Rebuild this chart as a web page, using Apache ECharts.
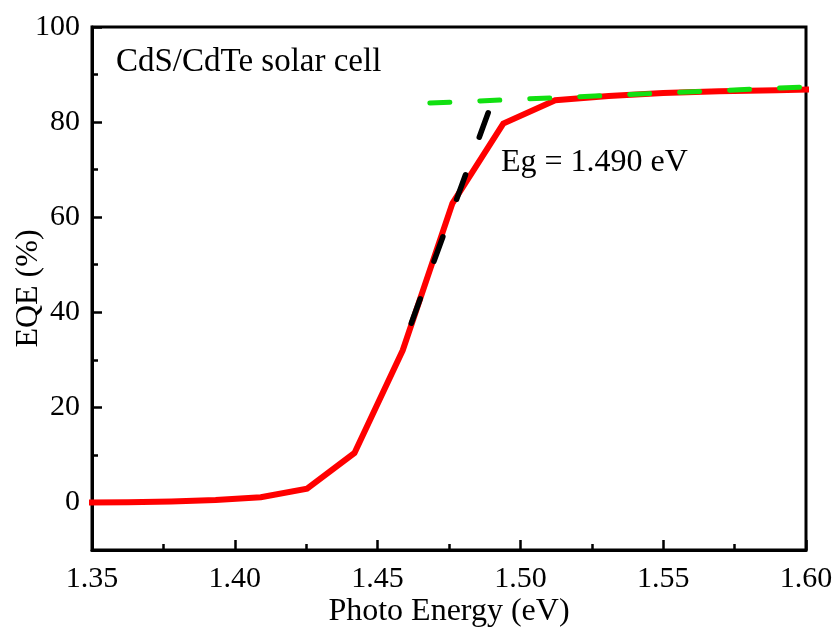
<!DOCTYPE html>
<html>
<head>
<meta charset="utf-8">
<script src="https://cdn.jsdelivr.net/npm/echarts@6/dist/echarts.min.js"></script>
<style>html,body{margin:0;padding:0;background:#fff;}#c{width:838px;height:630px;}</style>
</head>
<body>
<div id="c"></div>
<script>
// Data
const energy = [1.3478, 1.3626, 1.3778, 1.3933, 1.4091, 1.4253, 1.4419, 1.4588, 1.4762, 1.4940, 1.5122, 1.5309, 1.5500, 1.5696, 1.5897, 1.6104];
const eqe    = [0.0, 0.05, 0.2, 0.5, 1.1, 2.9, 10.4, 32.0, 62.9, 79.7, 84.6, 85.5, 86.1, 86.5, 86.7, 87.0];
const plateauX = [1.4683, 1.60];
const plateauY = [84.0, 87.4];
const slopeX = [1.4618, 1.4893];
const slopeY = [37.7, 82.9];
const yMajor = [0, 20, 40, 60, 80, 100];
const yMinor = [10, 30, 50, 70, 90];
const sampleLabel = 'CdS/CdTe solar cell';
const egLabel = 'Eg = 1.490 eV';

const FF = '"Liberation Serif", "Times New Roman", serif';
const zip = (a, b) => a.map((v, i) => [v, b[i]]);

const chart = echarts.init(document.getElementById('c'));
chart.setOption({
  animation: false,
  backgroundColor: '#fff',
  grid: { left: 92, right: 32, top: 27, bottom: 80, containLabel: false, outerBoundsMode: 'none',
          show: true, borderColor: '#000', borderWidth: 3, backgroundColor: 'transparent' },
  xAxis: {
    type: 'value', min: 1.35, max: 1.60, interval: 0.05,
    name: 'Photo Energy (eV)', nameLocation: 'middle', nameGap: 46, nameMoveOverlap: false,
    nameTextStyle: { fontFamily: FF, fontSize: 32, color: '#000' },
    axisLine: { show: true, onZero: false, lineStyle: { color: '#000', width: 3 } },
    axisTick: { show: true, inside: true, length: 10, lineStyle: { color: '#000', width: 2.5 } },
    minorTick: { show: true, splitNumber: 2, length: 6, lineStyle: { color: '#000', width: 2.5 } },
    axisLabel: { fontFamily: FF, fontSize: 30, color: '#000', margin: 14, formatter: v => v.toFixed(2) },
    splitLine: { show: false }, minorSplitLine: { show: false }
  },
  yAxis: [{
    type: 'value', min: -10, max: 100, position: 'left',
    name: 'EQE (%)', nameLocation: 'middle', nameGap: 47, nameMoveOverlap: false,
    nameTextStyle: { fontFamily: FF, fontSize: 32, color: '#000' },
    axisLine: { show: true, onZero: false, lineStyle: { color: '#000', width: 3 } },
    axisTick: { show: true, inside: true, length: 10, customValues: yMajor, lineStyle: { color: '#000', width: 2.5 } },
    axisLabel: { customValues: yMajor, fontFamily: FF, fontSize: 30, color: '#000', margin: 12 },
    splitLine: { show: false }
  }, {
    type: 'value', min: -10, max: 100, position: 'left', offset: 0,
    axisLine: { show: false },
    axisTick: { show: true, inside: true, length: 6, customValues: yMinor, lineStyle: { color: '#000', width: 2.5 } },
    axisLabel: { show: false },
    splitLine: { show: false }
  }],
  series: [{
    type: 'line', data: zip(energy, eqe), symbol: 'none', clip: true, z: 2,
    lineStyle: { color: '#ff0000', width: 6, join: 'miter' }
  }, {
    type: 'line', data: zip(slopeX, slopeY), symbol: 'none', clip: true, z: 3,
    lineStyle: { color: '#000', width: 5.5, type: [26, 40], cap: 'round' }
  }, {
    type: 'line', data: zip(plateauX, plateauY), symbol: 'none', clip: true, z: 4,
    lineStyle: { color: '#11e011', width: 5, type: [20, 30], cap: 'round' }
  }],
  graphic: [
    { type: 'text', x: 116, y: 46, style: { text: sampleLabel, font: '33px ' + FF, fill: '#000', verticalAlign: 'top' } },
    { type: 'text', x: 501, y: 147, style: { text: egLabel, font: '32px ' + FF, fill: '#000', verticalAlign: 'top' } }
  ]
});
</script>
</body>
</html>
